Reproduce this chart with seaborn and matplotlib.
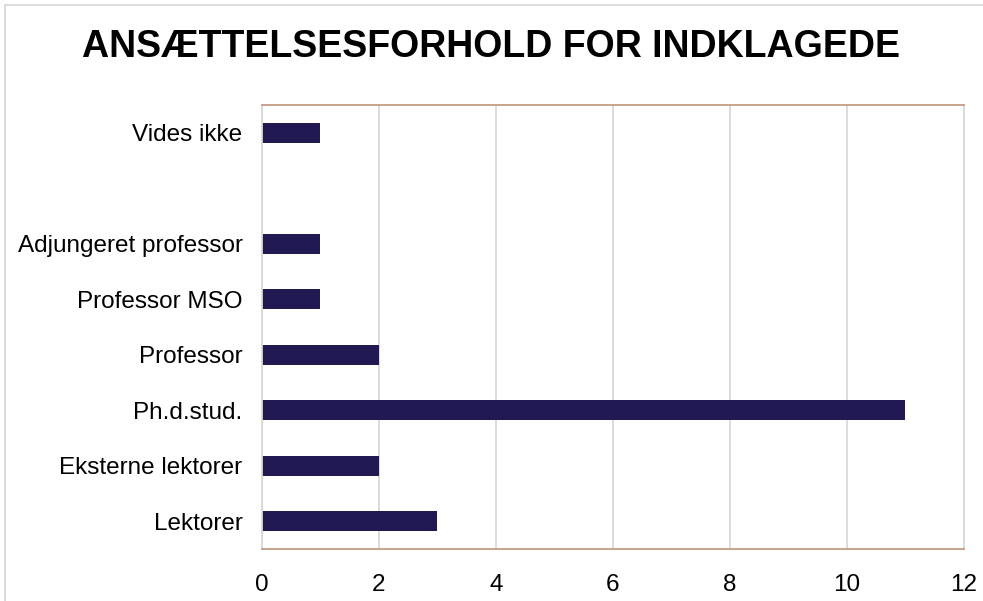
import pandas as pd
import seaborn as sns
import matplotlib
matplotlib.use('Agg')
import matplotlib.pyplot as plt
from matplotlib.lines import Line2D

# data (top to bottom; one empty slot between Vides ikke and Adjungeret)
categories = ['Vides ikke', 'Adjungeret professor', 'Professor MSO', 'Professor',
              'Ph.d.stud.', 'Eksterne lektorer', 'Lektorer']
counts = [1, 1, 1, 2, 11, 2, 3]
slot_order = ['Vides ikke', ' ', 'Adjungeret professor', 'Professor MSO', 'Professor',
              'Ph.d.stud.', 'Eksterne lektorer', 'Lektorer']
x_ticks = [0, 2, 4, 6, 8, 10, 12]

df = pd.DataFrame({'Kategori': categories, 'Antal': counts})

sns.set_style('white')
plt.rcParams['font.family'] = ['Liberation Sans', 'DejaVu Sans']

fig = plt.figure(figsize=(9.83, 6.01), dpi=100)
ax = fig.add_axes([0.2665, 0.0865, 0.714, 0.739])

sns.barplot(data=df, x='Antal', y='Kategori', order=slot_order, orient='h',
            color='#211a52', saturation=1, width=0.36, linewidth=0, ax=ax)

ax.set_xlim(0, 12)
ax.set_xticks(x_ticks)
ax.set_xticklabels([str(t) for t in x_ticks])
ax.grid(axis='x', color='#d9d9d9', linewidth=1.3)
ax.grid(axis='y', visible=False)
ax.set_axisbelow(True)
ax.set_xlabel('')
ax.set_ylabel('')
ax.tick_params(axis='x', length=0, pad=18, labelsize=17.5, labelcolor='black')
ax.tick_params(axis='y', length=0, pad=14, labelsize=17.5, labelcolor='black')

for side in ['top', 'bottom']:
    ax.spines[side].set_color('#c0937a')
    ax.spines[side].set_linewidth(1.2)
for side in ['left', 'right']:
    ax.spines[side].set_color('#d9d9d9')
    ax.spines[side].set_linewidth(1.3)

fig.text(0.5, 0.922, 'ANSÆTTELSESFORHOLD FOR INDKLAGEDE', ha='center', va='center',
         fontsize=27, fontweight='bold', color='black')

# outer chart border (left and top edges visible in the reference)
fig.add_artist(Line2D([5 / 983, 5 / 983], [0, 1 - 5 / 601], transform=fig.transFigure,
                      color='#d9d9d9', linewidth=1.3))
fig.add_artist(Line2D([5 / 983, 1], [1 - 5 / 601, 1 - 5 / 601], transform=fig.transFigure,
                      color='#d9d9d9', linewidth=1.3))

fig.savefig('out.png', dpi=100)
